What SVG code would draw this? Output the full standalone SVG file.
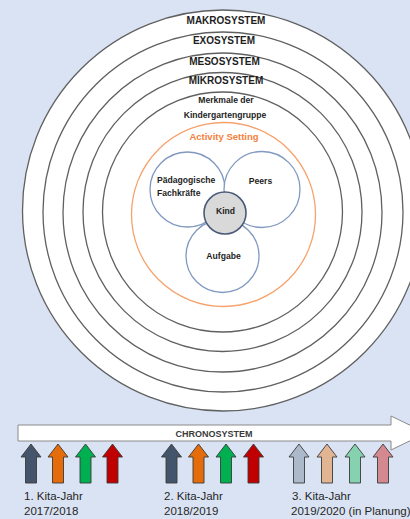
<svg xmlns="http://www.w3.org/2000/svg" width="410" height="519" viewBox="0 0 410 519">
  <defs>
    <style>
      .ring { fill: #ffffff; stroke: #606060; stroke-width: 1.3; }
      .lbl { font-family: "Liberation Sans", Arial, sans-serif; font-weight: bold; fill: #1e1e1e; text-anchor: middle; }
      .sys { font-size: 10px; }
      .sm { font-size: 8.6px; }
      .actor { fill: #ffffff; stroke: #8099c0; stroke-width: 1.3; }
      .year { font-family: "Liberation Sans", Arial, sans-serif; font-size: 11.5px; fill: #262626; }
      .yarrow { stroke: #3a3a3a; stroke-width: 0.9; }
    </style>
    <path id="up" d="M0,0 L10,13 L5.5,13 L5.5,39 L-5.5,39 L-5.5,13 L-10,13 Z"/>
  </defs>
  <rect width="410" height="519" fill="#dae3f3"/>

  <g id="makrosystem">
    <circle class="ring" cx="223" cy="210.5" r="200.5" stroke="#7b7f88"/>
    <text class="lbl sys" x="226" y="24">MAKROSYSTEM</text>
  </g>
  <g id="exosystem">
    <circle class="ring" cx="223" cy="212" r="180"/>
    <text class="lbl sys" x="224" y="43.5">EXOSYSTEM</text>
  </g>
  <g id="mesosystem">
    <circle class="ring" cx="222.5" cy="212.5" r="159.5"/>
    <text class="lbl sys" x="224.5" y="65">MESOSYSTEM</text>
  </g>
  <g id="mikrosystem">
    <circle class="ring" cx="222.5" cy="212" r="139.5"/>
    <text class="lbl sys" x="226" y="84">MIKROSYSTEM</text>
  </g>
  <g id="kindergartengruppe">
    <circle class="ring" cx="222.5" cy="212" r="120"/>
    <text class="lbl sm" x="226" y="102.5">Merkmale der</text>
    <text class="lbl sm" x="225" y="117.5">Kindergartengruppe</text>
  </g>
  <g id="activity-setting">
    <circle cx="223.5" cy="214.5" r="92" fill="#ffffff" stroke="#f6a26c" stroke-width="1.3"/>
    <text class="lbl" x="224" y="139.5" font-size="9.5" style="fill:#f4813c">Activity Setting</text>
  </g>
  <g id="fachkraefte">
    <circle class="actor" cx="187.5" cy="189.5" r="37.5"/>
    <text class="lbl sm" x="157" y="183" style="text-anchor:start">Pädagogische</text>
    <text class="lbl sm" x="157" y="196" style="text-anchor:start">Fachkräfte</text>
  </g>
  <g id="peers">
    <circle class="actor" cx="262" cy="189.5" r="38"/>
    <text class="lbl sm" x="260.5" y="183.5">Peers</text>
  </g>
  <g id="aufgabe">
    <circle class="actor" cx="222.5" cy="256" r="36.5"/>
    <text class="lbl sm" x="223.5" y="258.5">Aufgabe</text>
  </g>
  <g id="kind">
    <circle cx="225" cy="213" r="21" fill="#d9d9d9" stroke="#4a5a78" stroke-width="1.6"/>
    <text class="lbl sm" x="225.5" y="214">Kind</text>
  </g>

  <g id="chronosystem">
    <polygon points="18,425 391,425 391,416 426,433 391,450 391,441 18,441" fill="#ffffff" stroke="#8a8a8a" stroke-width="1"/>
    <text class="lbl" x="214" y="436.5" font-size="9" style="fill:#3a3a3a">CHRONOSYSTEM</text>
  </g>

  <g id="jahr1">
    <use href="#up" class="yarrow" transform="translate(31,444)" fill="#44546a"/>
    <use href="#up" class="yarrow" transform="translate(58,444)" fill="#e46c0a"/>
    <use href="#up" class="yarrow" transform="translate(85.5,444)" fill="#00b050"/>
    <use href="#up" class="yarrow" transform="translate(112.5,444)" fill="#c00000"/>
    <text class="year" x="24" y="500">1. Kita-Jahr</text>
    <text class="year" x="24" y="514.5">2017/2018</text>
  </g>
  <g id="jahr2">
    <use href="#up" class="yarrow" transform="translate(171.5,444)" fill="#44546a"/>
    <use href="#up" class="yarrow" transform="translate(198.5,444)" fill="#e46c0a"/>
    <use href="#up" class="yarrow" transform="translate(226,444)" fill="#00b050"/>
    <use href="#up" class="yarrow" transform="translate(253.5,444)" fill="#c00000"/>
    <text class="year" x="164" y="500">2. Kita-Jahr</text>
    <text class="year" x="164" y="514.5">2018/2019</text>
  </g>
  <g id="jahr3">
    <use href="#up" class="yarrow" transform="translate(299,444)" fill="#acb9ca" stroke="#5a5f68"/>
    <use href="#up" class="yarrow" transform="translate(327,444)" fill="#e2b592" stroke="#5a5f68"/>
    <use href="#up" class="yarrow" transform="translate(355,444)" fill="#86d2b0" stroke="#5a5f68"/>
    <use href="#up" class="yarrow" transform="translate(383,444)" fill="#d48890" stroke="#5a5f68"/>
    <text class="year" x="292" y="500">3. Kita-Jahr</text>
    <text class="year" x="291" y="514.5" font-size="10.3">2019/2020 (in Planung)</text>
  </g>
</svg>
